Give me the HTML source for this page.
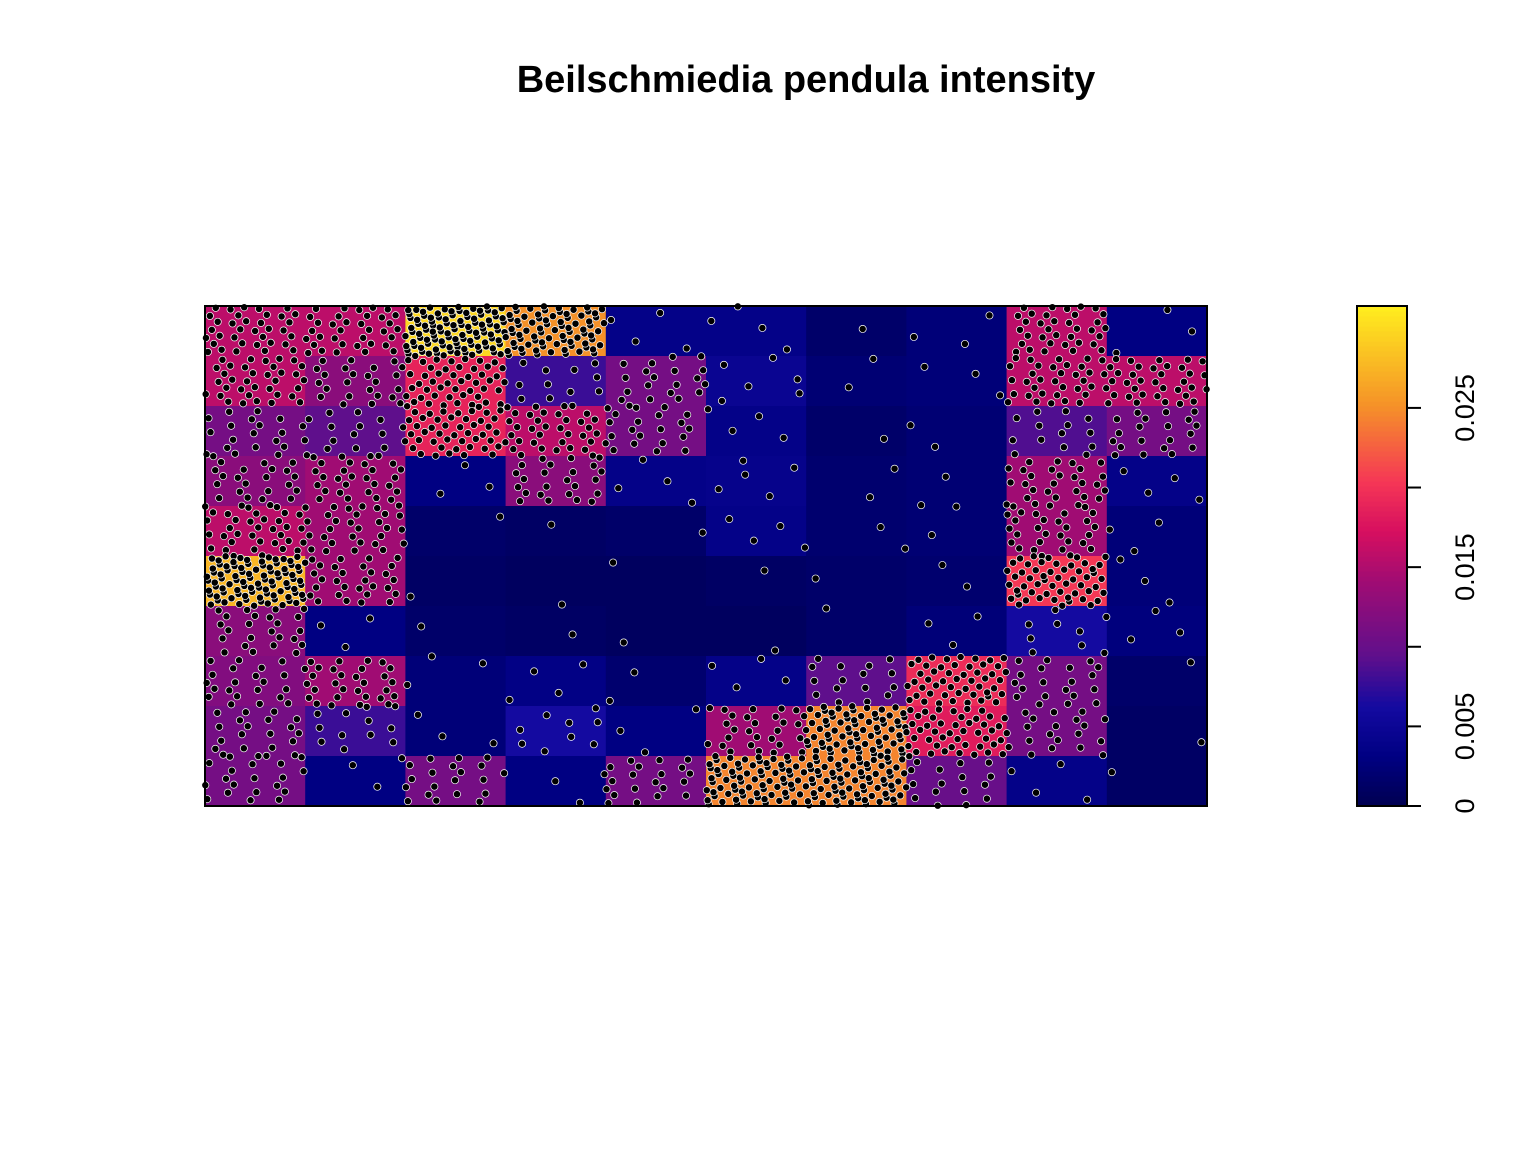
<!DOCTYPE html>
<html><head><meta charset="utf-8"><style>
body{margin:0;background:#fff;}
svg text{font-family:"Liberation Sans",Arial,sans-serif;}
</style></head><body>
<svg id="chart" width="1536" height="1152" xmlns="http://www.w3.org/2000/svg">
<rect width="1536" height="1152" fill="#fff"/>
<text x="806" y="92" text-anchor="middle" font-size="38" font-weight="bold">Beilschmiedia pendula intensity</text>
<g id="cells"></g>
<g id="pts"></g>
<rect x="205" y="306" width="1002" height="500" fill="none" stroke="#000" stroke-width="2"/>
<g id="bar"></g>
</svg>
<script>
// intensity fraction of colour-scale max, rows top->bottom, cols left->right
const row0=[0.5,0.5,0.95,0.8,0.12,0.12,0.05,0.08,0.5,0.1];
const row1=[0.5,0.4,0.6,0.25,0.35,0.15,0.07,0.08,0.5,0.5];
const row2=[0.35,0.3,0.6,0.5,0.35,0.12,0.05,0.07,0.28,0.35];
const row3=[0.4,0.45,0.1,0.4,0.12,0.13,0.06,0.07,0.45,0.12];
const row4=[0.5,0.45,0.05,0.04,0.05,0.12,0.06,0.07,0.45,0.08];
const row5=[0.88,0.45,0.04,0.03,0.03,0.04,0.05,0.06,0.65,0.08];
const row6=[0.4,0.1,0.05,0.04,0.03,0.03,0.05,0.08,0.2,0.09];
const row7=[0.38,0.45,0.08,0.11,0.06,0.12,0.3,0.62,0.35,0.05];
const row8=[0.35,0.25,0.08,0.2,0.1,0.45,0.78,0.58,0.35,0.04];
const row9=[0.35,0.1,0.35,0.1,0.35,0.78,0.78,0.32,0.12,0.04];
const grid=[row0,row1,row2,row3,row4,row5,row6,row7,row8,row9];
const scaleMax=0.0314;
const tickValues=[0,0.005,0.01,0.015,0.02,0.025];
const tickLabels=["0","0.005","","0.015","","0.025"];

const NS="http://www.w3.org/2000/svg";
const X0=205,X1=1207,Y0=306,Y1=806;
const cw=(X1-X0)/10,ch=(Y1-Y0)/10;
const stops=[[0,[0,0,80]],[0.1,[0,0,130]],[0.2,[20,10,160]],[0.3,[95,15,140]],[0.45,[160,12,115]],[0.55,[215,15,95]],[0.65,[245,55,85]],[0.8,[245,145,40]],[1,[255,238,30]]];
function col(t){t=Math.max(0,Math.min(1,t));for(let i=1;i<stops.length;i++){if(t<=stops[i][0]){const a=stops[i-1],b=stops[i],f=(t-a[0])/(b[0]-a[0]);return`rgb(${a[1].map((v,k)=>Math.round(v+(b[1][k]-v)*f)).join(',')})`;}}return'rgb(255,238,30)';}
function xs(c){return X0+c*cw;}function ys(r){return Y0+r*ch;}
const cells=document.getElementById('cells'),pts=document.getElementById('pts');
grid.forEach((row,r)=>row.forEach((v,c)=>{
 const e=document.createElementNS(NS,'rect');
 
 
 e.setAttribute('x',xs(c));e.setAttribute('y',ys(r));e.setAttribute('width',cw+0.6);e.setAttribute('height',ch+0.6);e.setAttribute('fill',col(v));cells.appendChild(e);
}));
grid.forEach((row,r)=>row.forEach((v,c)=>{
 const n=Math.round(v*v*90+v*25);
 const off=(r*10+c)*7.3;
 for(let i=0;i<n;i++){
  const k=i+off;
  const fx=(0.5+k*0.7548776662)%1, fy=(0.5+k*0.5698402910)%1;
  const p=document.createElementNS(NS,'circle');
  
  
  p.setAttribute('cx',xs(c)+fx*cw);p.setAttribute('cy',ys(r)+fy*ch);p.setAttribute('r',3.6);
  p.setAttribute('fill','#000');p.setAttribute('stroke','#fff');p.setAttribute('stroke-width',0.7);pts.appendChild(p);
 }
}));
const bar=document.getElementById('bar');
const BX=1357,BW=50;
function by(v){return Y1-v/scaleMax*(Y1-Y0);}
for(let i=0;i<100;i++){
 const e=document.createElementNS(NS,'rect');
 
 
 e.setAttribute('x',BX);e.setAttribute('y',Y1-(i+1)*5);e.setAttribute('width',BW);e.setAttribute('height',5.5);e.setAttribute('fill',col((i+0.5)/100));bar.appendChild(e);
}
const fr=document.createElementNS(NS,'rect');


fr.setAttribute('x',BX);fr.setAttribute('y',Y0);fr.setAttribute('width',BW);fr.setAttribute('height',Y1-Y0);fr.setAttribute('fill','none');fr.setAttribute('stroke','#000');fr.setAttribute('stroke-width',2);bar.appendChild(fr);
tickValues.forEach((v,i)=>{
 const y=by(v);
 const l=document.createElementNS(NS,'line');
 
 
 l.setAttribute('x1',BX+BW);l.setAttribute('x2',BX+BW+14);l.setAttribute('y1',y);l.setAttribute('y2',y);l.setAttribute('stroke','#000');l.setAttribute('stroke-width',2);bar.appendChild(l);
 if(tickLabels[i]){
  const t=document.createElementNS(NS,'text');
  
  
  t.setAttribute('x',0);t.setAttribute('y',0);t.setAttribute('font-size','27');t.setAttribute('text-anchor','middle');
  t.setAttribute('transform',`translate(1474,${y}) rotate(-90)`);t.textContent=tickLabels[i];bar.appendChild(t);
 }
});
</script>
</body></html>
